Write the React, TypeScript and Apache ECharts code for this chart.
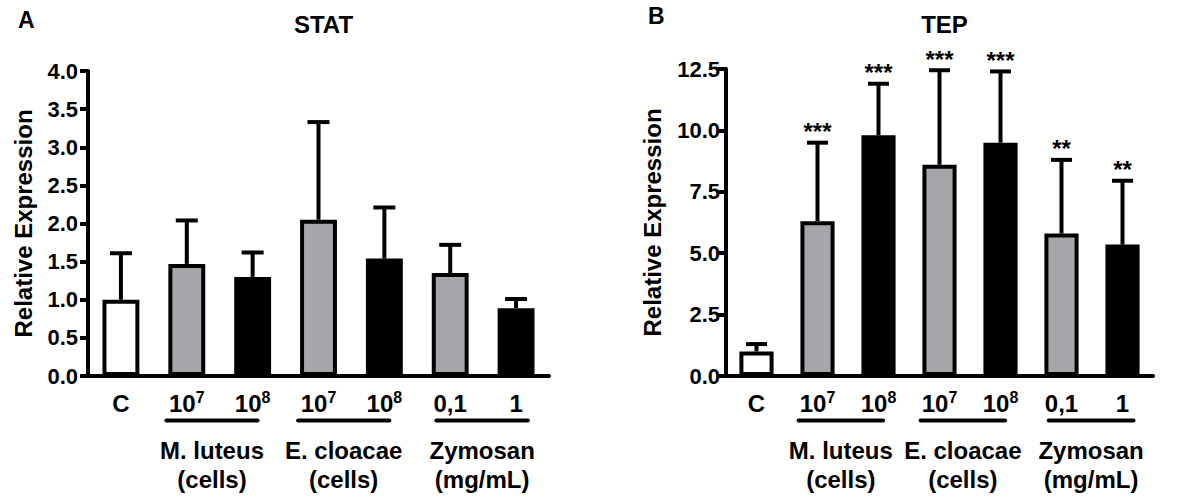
import React, { useEffect, useRef } from 'react';
import * as echarts from 'echarts';

// ---- data ----
const categoryKeys = ['C', 'M7', 'M8', 'E7', 'E8', 'Z01', 'Z1'];
const tickBase = ['C', '10', '10', '10', '10', '0,1', '1'];
const tickSup = ['', '7', '8', '7', '8', '', ''];
const barKinds = ['white', 'gray', 'black', 'gray', 'black', 'gray', 'black'];

const statMean = [1.0, 1.47, 1.3, 2.05, 1.54, 1.35, 0.89];
const statUpper = [1.61, 2.04, 1.62, 3.33, 2.21, 1.72, 1.01];
const statStars = ['', '', '', '', '', '', ''];

const tepMean = [1.0, 6.3, 9.8, 8.6, 9.5, 5.8, 5.35];
const tepUpper = [1.3, 9.5, 11.9, 12.45, 12.4, 8.8, 7.95];
const tepStars = ['', '***', '***', '***', '***', '**', '**'];

const groupNames = ['M. luteus', 'E. cloacae', 'Zymosan'];
const groupUnits = ['(cells)', '(cells)', '(mg/mL)'];
const groupFirst = [1, 3, 5];
const groupLast = [2, 4, 6];

const panelTitles = ['STAT', 'TEP'];
const panelLetters = ['A', 'B'];
const yMax = [4, 12.5];
const yInterval = [0.5, 2.5];

// ---- style ----
const FONT = '"Liberation Sans", Arial, Helvetica, sans-serif';
const GRAY = '#a6a6aa';
const fillFor: Record<string, string> = { white: '#ffffff', gray: GRAY, black: '#000000' };
const grids = [
  { left: 88, top: 71, width: 461, height: 305 },
  { left: 726, top: 69, width: 427, height: 307 },
];
const capWidths = [22, 21];
const nameGaps = [53, 62];
const labelMargins = [10, 6];
const lineLeftFrac = [0.31, 0.31, 0.21];
const lineRightFrac = [0.075, 0.075, 0.18];

export default function App() {
  const ref = useRef<HTMLDivElement>(null);

  useEffect(() => {
    if (!ref.current) return;
    const chart = echarts.init(ref.current, undefined, { renderer: 'svg' });
    const means = [statMean, tepMean];
    const uppers = [statUpper, tepUpper];
    const stars = [statStars, tepStars];

    const option: any = {
      animation: false,
      backgroundColor: '#ffffff',
      title: [
        ...panelTitles.map((t, i) => ({
          text: t,
          left: grids[i].left + grids[i].width / 2,
          top: 7,
          textAlign: 'center',
          textStyle: { fontFamily: FONT, fontWeight: 'bold', fontSize: 24, color: '#000' },
        })),
        { text: panelLetters[0], left: 13, top: 3, textStyle: { fontFamily: FONT, fontWeight: 'bold', fontSize: 23, color: '#000' } },
        { text: panelLetters[1], left: 643, top: -1, textStyle: { fontFamily: FONT, fontWeight: 'bold', fontSize: 23, color: '#000' } },
      ],
      grid: grids.map((g) => ({ ...g, containLabel: false })),
      xAxis: grids.map((_, i) => ({
        type: 'category',
        gridIndex: i,
        data: categoryKeys,
        axisLine: { lineStyle: { color: '#000', width: 4 } },
        axisTick: { show: false },
        axisLabel: {
          margin: 13,
          interval: 0,
          formatter: (_v: string, idx: number) =>
            tickSup[idx] ? `{b|${tickBase[idx]}}{s|${tickSup[idx]}}` : `{b|${tickBase[idx]}}`,
          rich: {
            b: { fontFamily: FONT, fontWeight: 'bold', fontSize: 24, color: '#000', verticalAlign: 'bottom', lineHeight: 26 },
            s: { fontFamily: FONT, fontWeight: 'bold', fontSize: 16, color: '#000', verticalAlign: 'top', lineHeight: 26 },
          },
        },
      })),
      yAxis: grids.map((_, i) => ({
        type: 'value',
        gridIndex: i,
        min: 0,
        max: yMax[i],
        interval: yInterval[i],
        name: 'Relative Expression',
        nameLocation: 'middle',
        nameGap: nameGaps[i],
        nameTextStyle: { fontFamily: FONT, fontWeight: 'bold', fontSize: 24, color: '#000' },
        splitLine: { show: false },
        axisLine: { show: true, lineStyle: { color: '#000', width: 4 } },
        axisTick: { show: true, length: 8, lineStyle: { color: '#000', width: 4 } },
        axisLabel: {
          margin: labelMargins[i],
          formatter: (v: number) => v.toFixed(1),
          fontFamily: FONT,
          fontWeight: 'bold',
          fontSize: 22,
          color: '#000',
        },
      })),
      series: [
        ...grids.map((_, i) => ({
          type: 'bar',
          xAxisIndex: i,
          yAxisIndex: i,
          barWidth: '56%',
          z: 2,
          data: means[i].map((v, k) => ({
            value: v,
            itemStyle: { color: fillFor[barKinds[k]], borderColor: '#000', borderWidth: 4 },
          })),
        })),
        ...grids.map((_, i) => ({
          type: 'custom',
          xAxisIndex: i,
          yAxisIndex: i,
          z: 4,
          data: means[i].map((v, k) => [k, v, uppers[i][k]]),
          renderItem: (params: any, api: any) => {
            const top = api.coord([api.value(0), api.value(1)]);
            const up = api.coord([api.value(0), api.value(2)]);
            const half = capWidths[i] / 2;
            const st = stars[i][params.dataIndex];
            const children: any[] = [
              { type: 'line', shape: { x1: top[0], y1: top[1], x2: up[0], y2: up[1] }, style: { stroke: '#000', lineWidth: 4 } },
              { type: 'line', shape: { x1: up[0] - half, y1: up[1], x2: up[0] + half, y2: up[1] }, style: { stroke: '#000', lineWidth: 4 } },
            ];
            if (st) {
              children.push({
                type: 'text',
                style: {
                  text: st,
                  x: up[0],
                  y: up[1] - 11,
                  align: 'center',
                  verticalAlign: 'middle',
                  fontFamily: FONT,
                  fontWeight: 'bold',
                  fontSize: 24,
                  fill: '#000',
                },
              });
            }
            return { type: 'group', children };
          },
        })),
      ],
    };
    chart.setOption(option);

    // group underlines and group names, positioned from the axes
    const graphics: any[] = [];
    grids.forEach((_, i) => {
      const axisY = chart.convertToPixel({ yAxisIndex: i } as any, 0) as number;
      const p0 = chart.convertToPixel({ xAxisIndex: i } as any, categoryKeys[0]) as number;
      const p1 = chart.convertToPixel({ xAxisIndex: i } as any, categoryKeys[1]) as number;
      const band = p1 - p0;
      groupNames.forEach((g, gi) => {
        const c1 = chart.convertToPixel({ xAxisIndex: i } as any, categoryKeys[groupFirst[gi]]) as number;
        const c2 = chart.convertToPixel({ xAxisIndex: i } as any, categoryKeys[groupLast[gi]]) as number;
        const x1 = c1 - lineLeftFrac[gi] * band;
        const x2 = c2 + lineRightFrac[gi] * band;
        const cx = (x1 + x2) / 2;
        graphics.push({
          type: 'line',
          shape: { x1, y1: axisY + 44.5, x2, y2: axisY + 44.5 },
          style: { stroke: '#000', lineWidth: 4, lineCap: 'round' },
        });
        graphics.push({
          type: 'text',
          x: cx,
          y: axisY + 74,
          style: { text: g, align: 'center', verticalAlign: 'middle', fontFamily: FONT, fontWeight: 'bold', fontSize: 24, fill: '#000' },
        });
        graphics.push({
          type: 'text',
          x: cx,
          y: axisY + 103,
          style: { text: groupUnits[gi], align: 'center', verticalAlign: 'middle', fontFamily: FONT, fontWeight: 'bold', fontSize: 24, fill: '#000' },
        });
      });
    });
    chart.setOption({ graphic: graphics });

    return () => chart.dispose();
  }, []);

  return <div ref={ref} style={{ position: 'absolute', left: 0, top: 0, width: 1200, height: 497 }} />;
}
